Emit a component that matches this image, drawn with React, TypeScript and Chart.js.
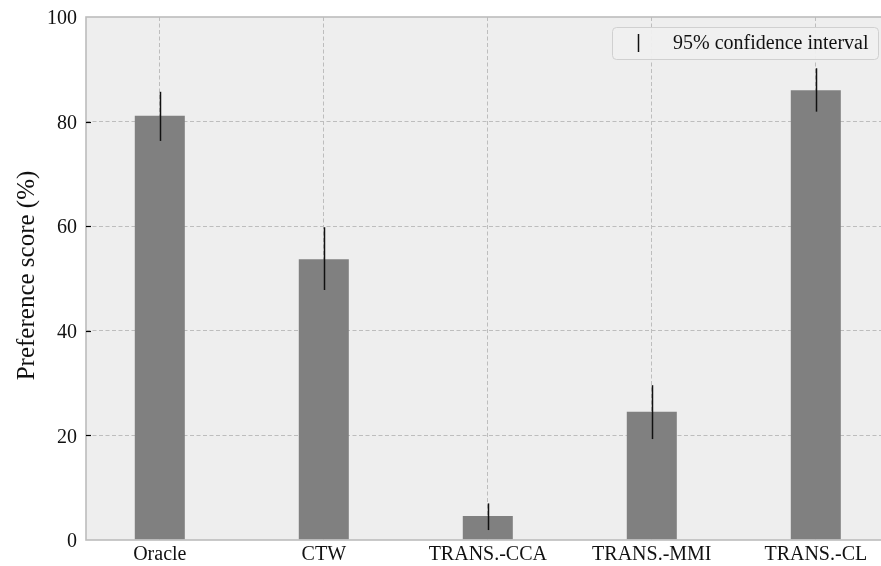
import React, { useEffect, useRef } from "react";
import { Chart, registerables } from "chart.js";

Chart.register(...registerables);

const categories = ["Oracle", "CTW", "TRANS.-CCA", "TRANS.-MMI", "TRANS.-CL"];
const scores = [81.1, 53.7, 4.6, 24.5, 86.0];
const ciLow = [76.3, 47.8, 1.9, 19.3, 81.9];
const ciHigh = [85.7, 59.8, 7.0, 29.6, 90.2];
const yTicks = [0, 20, 40, 60, 80, 100];
const legendLabel = "95% confidence interval";
const yTitle = "Preference score (%)";

const FONT = '"Liberation Serif", "DejaVu Serif", serif';
const GRID = "#bdbdbd";
const FRAME = "#bcbcbc";

const decor = {
  id: "decor",
  beforeDraw(chart: any) {
    const { ctx, chartArea: a } = chart;
    ctx.save();
    ctx.fillStyle = "#eeeeee";
    ctx.fillRect(a.left, a.top, a.right - a.left, a.bottom - a.top);
    ctx.restore();
  },
  afterDatasetsDraw(chart: any) {
    const { ctx } = chart;
    const y = chart.scales.y;
    const meta = chart.getDatasetMeta(0);
    ctx.save();
    ctx.strokeStyle = "#111111";
    ctx.lineWidth = 1.5;
    meta.data.forEach((el: any, i: number) => {
      ctx.beginPath();
      ctx.moveTo(Math.round(el.x) + 0.5, y.getPixelForValue(ciLow[i]));
      ctx.lineTo(Math.round(el.x) + 0.5, y.getPixelForValue(ciHigh[i]));
      ctx.stroke();
    });
    ctx.restore();
  },
  afterDraw(chart: any) {
    const { ctx, chartArea: a } = chart;
    const y = chart.scales.y;
    ctx.save();
    // frame
    ctx.strokeStyle = FRAME;
    ctx.lineWidth = 1.6;
    ctx.strokeRect(a.left, a.top, a.right - a.left, a.bottom - a.top);
    // inward ticks
    ctx.strokeStyle = "#000000";
    ctx.lineWidth = 1.2;
    yTicks.forEach((v) => {
      if (v === 0 || v === 100) return;
      const py = Math.round(y.getPixelForValue(v)) + 0.5;
      ctx.beginPath();
      ctx.moveTo(a.left, py);
      ctx.lineTo(a.left + 5, py);
      ctx.stroke();
    });
    // y title
    ctx.save();
    ctx.translate(27, (a.top + a.bottom) / 2 - 3);
    ctx.rotate(-Math.PI / 2);
    ctx.fillStyle = "#111111";
    ctx.font = `25px ${FONT}`;
    ctx.textAlign = "center";
    ctx.textBaseline = "middle";
    ctx.fillText(yTitle, 0, 0);
    ctx.restore();
    // legend
    ctx.beginPath();
    (ctx as any).roundRect(612.5, 27.5, 266, 32, 4);
    ctx.fillStyle = "rgba(239,239,239,0.95)";
    ctx.fill();
    ctx.strokeStyle = "#d0d0d0";
    ctx.lineWidth = 1;
    ctx.stroke();
    ctx.strokeStyle = "#111111";
    ctx.lineWidth = 1.5;
    ctx.beginPath();
    ctx.moveTo(638.5, 34);
    ctx.lineTo(638.5, 52);
    ctx.stroke();
    ctx.fillStyle = "#111111";
    ctx.font = `20px ${FONT}`;
    ctx.textAlign = "left";
    ctx.textBaseline = "middle";
    ctx.fillText(legendLabel, 673, 43.5);
    ctx.restore();
  },
};

export default function App() {
  const ref = useRef<HTMLCanvasElement | null>(null);
  useEffect(() => {
    if (!ref.current) return;
    const chart = new Chart(ref.current, {
      type: "bar",
      data: {
        datasets: [
          {
            label: legendLabel,
            data: scores.map((v, i) => ({ x: i, y: v })),
            backgroundColor: "#808080",
            borderWidth: 0,
            barPercentage: 0.305,
            categoryPercentage: 1,
          },
        ],
      },
      options: {
        responsive: false,
        animation: false,
        devicePixelRatio: 1,
        layout: { padding: { left: 0, top: 17, right: 10.4, bottom: 0 } },
        plugins: { legend: { display: false }, tooltip: { enabled: false } },
        scales: {
          x: {
            type: "linear",
            offset: false,
            min: -0.45,
            max: 4.45,
            afterBuildTicks: (s: any) => {
              s.ticks = categories.map((_, i) => ({ value: i }));
            },
            afterFit: (s: any) => {
              s.height = 26;
              s.paddingLeft = 0;
              s.paddingRight = 0;
            },
            ticks: {
              autoSkip: false,
              maxRotation: 0,
              padding: 3,
              color: "#111111",
              font: { family: FONT, size: 20 },
              callback: (v: any) => categories[Math.round(Number(v))] ?? "",
            },
            grid: { color: GRID, lineWidth: 1, drawTicks: false, offset: false },
            border: { display: false, dash: [4, 2.5] },
          },
          y: {
            min: 0,
            max: 100,
            afterBuildTicks: (s: any) => {
              s.ticks = yTicks.map((v) => ({ value: v }));
            },
            afterFit: (s: any) => {
              s.width = 86;
              s.paddingTop = 0;
              s.paddingBottom = 0;
            },
            ticks: {
              padding: 9,
              labelOffset: 2,
              color: "#111111",
              font: { family: FONT, size: 20 },
            },
            grid: {
              color: (c: any) =>
                c.tick && (c.tick.value === 0 || c.tick.value === 100) ? "rgba(0,0,0,0)" : GRID,
              lineWidth: 1,
              drawTicks: false,
            },
            border: { display: false, dash: [4, 2.5] },
          },
        },
      },
      plugins: [decor],
    });
    return () => chart.destroy();
  }, []);
  return (
    <div style={{ position: "fixed", left: 0, top: 0, width: 881, height: 566, overflow: "hidden" }}>
      <canvas ref={ref} width={900} height={566} style={{ width: 900, height: 566, display: "block" }} />
    </div>
  );
}
